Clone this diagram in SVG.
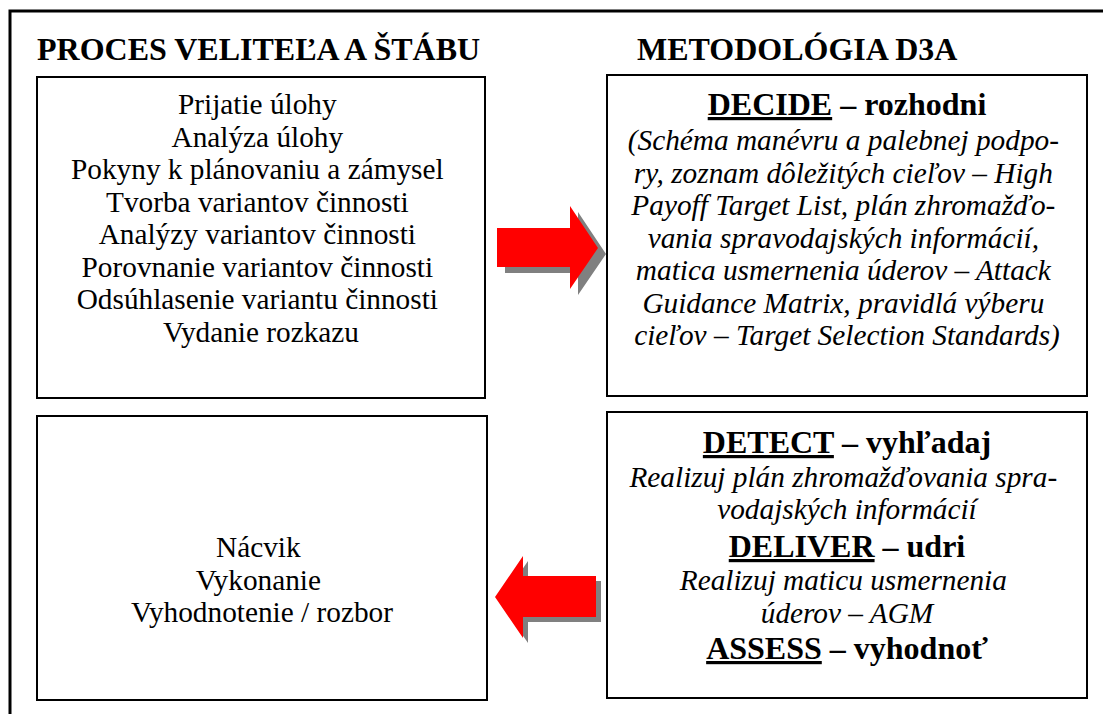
<svg xmlns="http://www.w3.org/2000/svg" width="1103" height="714" viewBox="0 0 1103 714">
<style>
.box{fill:#fff;stroke:#000;stroke-width:2}
.frame{fill:none;stroke:#000;stroke-width:3}
.h{font-family:"Liberation Serif","Times New Roman",serif;font-weight:bold;font-size:32px;fill:#000}
.t{font-family:"Liberation Serif","Times New Roman",serif;font-size:29.3px;fill:#000;text-anchor:middle}
.i{font-style:italic}
.b{font-weight:bold;font-size:32px}
.u{text-decoration:underline}
.arrow{fill:#ff0000}
.shadow{fill:#808080}
</style>
<rect width="1103" height="714" fill="#fff"/>
<path class="frame" d="M10 714 V11 H1103"/>
<g id="title-left"><text class="h" x="37" y="60">PROCES VELITEĽA A ŠTÁBU</text></g>
<g id="title-right"><text class="h" x="637" y="60">METODOLÓGIA D3A</text></g>
<g id="node-proces">
<rect class="box" x="37" y="77" width="448" height="321"/>
<text class="t">
<tspan x="261" y="114">Prijatie úlohy</tspan>
<tspan x="261" y="146.5">Analýza úlohy</tspan>
<tspan x="261" y="179">Pokyny k plánovaniu a zámysel</tspan>
<tspan x="261" y="211.5">Tvorba variantov činnosti</tspan>
<tspan x="261" y="244">Analýzy variantov činnosti</tspan>
<tspan x="261" y="276.5">Porovnanie variantov činnosti</tspan>
<tspan x="261" y="309">Odsúhlasenie variantu činnosti</tspan>
<tspan x="261" y="341.5">Vydanie rozkazu</tspan>
</text>
</g>
<g id="node-decide">
<rect class="box" x="607" y="75" width="480" height="321"/>
<text class="t b" x="847" y="115"><tspan class="u">DECIDE</tspan> – rozhodni</text>
<text class="t i">
<tspan x="847" y="150">(Schéma manévru a palebnej podpo-</tspan>
<tspan x="847" y="182.5">ry, zoznam dôležitých cieľov – High</tspan>
<tspan x="847" y="215">Payoff Target List, plán zhromažďo-</tspan>
<tspan x="847" y="247.5">vania spravodajských informácií,</tspan>
<tspan x="847" y="280">matica usmernenia úderov – Attack</tspan>
<tspan x="847" y="312.5">Guidance Matrix, pravidlá výberu</tspan>
<tspan x="847" y="345">cieľov – Target Selection Standards)</tspan>
</text>
</g>
<g id="node-vykonanie">
<rect class="box" x="37" y="416" width="450" height="284"/>
<text class="t">
<tspan x="262" y="557">Nácvik</tspan>
<tspan x="262" y="589.5">Vykonanie</tspan>
<tspan x="262" y="622">Vyhodnotenie / rozbor</tspan>
</text>
</g>
<g id="node-detect">
<rect class="box" x="607" y="412" width="480" height="286"/>
<text class="t b" x="847" y="453"><tspan class="u">DETECT</tspan> – vyhľadaj</text>
<text class="t i">
<tspan x="847" y="487">Realizuj plán zhromažďovania spra-</tspan>
<tspan x="847" y="519">vodajských informácií</tspan>
</text>
<text class="t b" x="847" y="557"><tspan class="u">DELIVER</tspan> – udri</text>
<text class="t i">
<tspan x="847" y="590">Realizuj maticu usmernenia</tspan>
<tspan x="847" y="623">úderov – AGM</tspan>
</text>
<text class="t b" x="847" y="659"><tspan class="u">ASSESS</tspan> – vyhodnoť</text>
</g>
<g id="connectors">
<g id="arrow-right">
<polygon class="shadow" transform="translate(8,6)" points="497,228 570,228 570,206 598,248 570,289 570,267 497,267"/>
<polygon class="arrow" points="497,228 570,228 570,206 598,248 570,289 570,267 497,267"/>
</g>
<g id="arrow-left">
<polygon class="shadow" transform="translate(5,5)" points="596,576 523,576 523,556 495,597 523,638 523,617 596,617"/>
<polygon class="arrow" points="596,576 523,576 523,556 495,597 523,638 523,617 596,617"/>
</g>
</g>
</svg>
